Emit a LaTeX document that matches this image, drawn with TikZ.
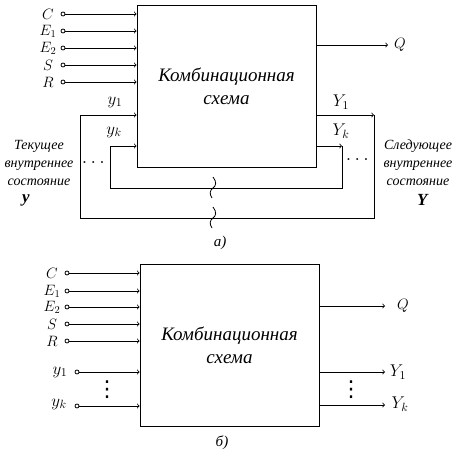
\documentclass[tikz,border=0pt]{standalone}
\usepackage{fix-cm}
\usepackage{fontspec}
\setmainfont{Liberation Serif}
\newfontfamily\symfont{DejaVu Sans}
\usepackage{amsmath}
\usetikzlibrary{arrows}
\tikzset{
  block_/.style = {shape=rectangle, draw, minimum width=179pt, minimum height=162pt, align=center, inner sep=0pt, font=\itshape\fontsize{19}{23}\selectfont},
  pin_/.style   = {shape=circle, draw, inner sep=0pt, minimum size=4pt},
  note_/.style  = {align=center, font=\itshape\fontsize{14}{18}\selectfont},
  big_/.style   = {font=\fontsize{17}{19}\selectfont},
  dots_/.style  = {font=\fontsize{20}{22}\selectfont},
  vdots_/.style = {inner sep=0pt, font=\symfont\fontsize{22}{24}\selectfont}
}
\begin{document}
\begin{tikzpicture}
		[
		x                 = 1pt,
		y                 = -1pt,
		>                 = to,
		line width        = 0.8pt,
		every node/.style = {font=\fontsize{15}{17}\selectfont}
		]
		\useasboundingbox (0,0) rectangle (458,458);
		% а)
		\node [block_] (combA) at (226.5,86) {Комбинационная\\схема};
		\foreach \name/\lab/\y in {C/C/14, E1/E_1/31, E2/E_2/48, S/S/65, R/R/82} {
			\node [pin_] (a\name) at (63,\y) {};
			\node (la\name) at (48,\y) {$\lab$};
			\draw [->] (a\name) -- (a\name -| combA.west);
		}
		\coordinate (aQ) at (388,45);
		\draw [->] (aQ -| combA.east) -- (aQ);
		\node (laQ) at (400,45) {$Q$};
		\coordinate (aY1) at (374,115);
		\coordinate (aYk) at (342,146);
		\coordinate (ay1) at (80,115);
		\coordinate (ayk) at (110,146);
		\coordinate (aB1) at (80,218);
		\coordinate (aBk) at (110,188);
		\draw [->] (aY1 -| combA.east) -- (aY1);
		\draw [->] (aYk -| combA.east) -- (aYk);
		\draw (aY1) |- (aB1) -- (ay1);
		\draw (aYk) |- (aBk) -- (ayk);
		\draw [->] (ay1) -- (ay1 -| combA.west);
		\draw [->] (ayk) -- (ayk -| combA.west);
		\foreach \y in {188,218}
			\draw (213,\y-11) .. controls (217,\y-6) and (216,\y-2) .. (213,\y) .. controls (210,\y+2) and (209,\y+6) .. (212,\y+10);
		\node [big_] (lay1) at (115,102) {$y_1$};
		\node [big_] (layk) at (114,132) {$y_k$};
		\node [big_] (laY1) at (341,102) {$Y_1$};
		\node [big_] (laYk) at (341,131) {$Y_k$};
		\node [dots_] (dotsL) at (95,163) {$\dots$};
		\node [dots_] (dotsR) at (359,160) {$\dots$};
		\node [note_] (curState) at (39,163) {Текущее\\внутреннее\\состояние};
		\node [big_] (ybold) at (26,200) {\textbf{\textit{y}}};
		\node [note_] (nextState) at (418,163) {Следующее\\внутреннее\\состояние};
		\node [big_] (Ybold) at (423,200) {\textbf{\textit{Y}}};
		\node (capA) at (220,243) {\itshape а)};
		% б)
		\node [block_] (combB) at (229.5,345) {Комбинационная\\схема};
		\foreach \name/\lab/\y in {C/C/273, E1/E_1/291, E2/E_2/307, S/S/324, R/R/341} {
			\node [pin_] (b\name) at (67,\y) {};
			\node (lb\name) at (52,\y) {$\lab$};
			\draw [->] (b\name) -- (b\name -| combB.west);
		}
		\node [pin_] (by1) at (77,372) {};
		\node [pin_] (byk) at (77,406) {};
		\node [big_] (lby1) at (60,372) {$y_1$};
		\node [big_] (lbyk) at (59,404) {$y_k$};
		\draw [->] (by1) -- (by1 -| combB.west);
		\draw [->] (byk) -- (byk -| combB.west);
		\node [vdots_] (vdotsL) at (107,390) {⋮};
		\coordinate (bQ) at (385,306);
		\coordinate (bY1) at (385,372);
		\coordinate (bYk) at (385,405);
		\draw [->] (bQ -| combB.east) -- (bQ);
		\draw [->] (bY1 -| combB.east) -- (bY1);
		\draw [->] (bYk -| combB.east) -- (bYk);
		\node (lbQ) at (403,306) {$Q$};
		\node [big_] (lbY1) at (398,372) {$Y_1$};
		\node [big_] (lbYk) at (400,404) {$Y_k$};
		\node [vdots_] (vdotsR) at (351,390) {⋮};
		\node (capB) at (222,443) {\itshape б)};
\end{tikzpicture}
\end{document}
